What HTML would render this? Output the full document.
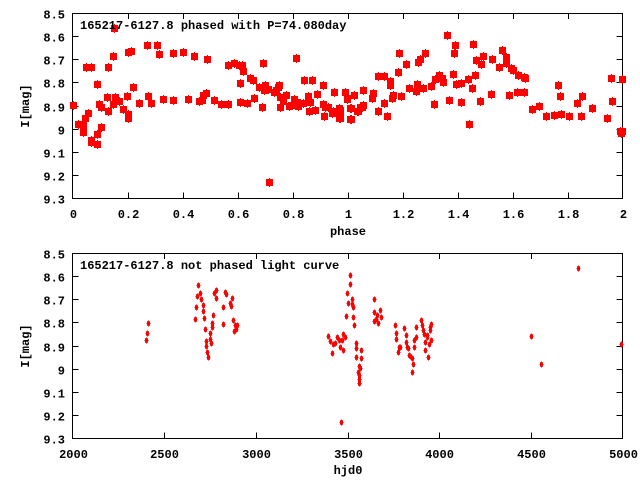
<!DOCTYPE html>
<html><head><meta charset="utf-8"><style>
html,body{margin:0;padding:0;background:#fff;}
svg{display:block;}
text{font-family:"Liberation Mono","DejaVu Sans Mono",monospace;font-weight:bold;font-size:12px;fill:#000;}
</style></head><body>
<svg id="s" width="640" height="480" xmlns="http://www.w3.org/2000/svg">
<rect width="640" height="480" fill="#fff"/>
<g id="ax" stroke="#000" stroke-width="1" fill="none" shape-rendering="crispEdges"></g>
<g id="tx"></g>
<g id="pts" fill="#f00" stroke="none" shape-rendering="crispEdges"></g>
<text x="80" y="29">165217-6127.8 phased with P=74.080day</text>
<text x="80" y="269">165217-6127.8 not phased light curve</text>
<text x="348" y="235" text-anchor="middle">phase</text>
<text x="348" y="474" text-anchor="middle">hjd0</text>
<text transform="translate(29,106) rotate(-90)" text-anchor="middle">I[mag]</text>
<text transform="translate(29,346) rotate(-90)" text-anchor="middle">I[mag]</text>
</svg>
<script>
var NS="http://www.w3.org/2000/svg";
var ax=document.getElementById('ax'),tx=document.getElementById('tx'),pts=document.getElementById('pts');
function el(p,tag,a,t){var e=document.createElementNS(NS,tag);for(var k in a)e.setAttribute(k,a[k]);if(t!==undefined)e.textContent=t;p.appendChild(e);return e;}
var L=72.5,R=622.5;
function panel(top,bot,xl){
  el(ax,'rect',{x:L,y:top+0.5,width:R-L,height:bot-top});
  var yl=['8.5','8.6','8.7','8.8','8.9','9','9.1','9.2','9.3'];
  for(var i=0;i<9;i++){var y=Math.round(top+i*(bot-top)/8)+0.5;
    if(i>0&&i<8){el(ax,'line',{x1:L,y1:y,x2:L+6,y2:y});el(ax,'line',{x1:R,y1:y,x2:R-6,y2:y});}
    el(tx,'text',{x:65,y:y+5,'text-anchor':'end'},yl[i]);}
  var n=xl.length;
  for(var j=0;j<n;j++){var x=Math.round(L+j*(R-L)/(n-1))+0.5;
    if(j>0&&j<n-1){el(ax,'line',{x1:x,y1:top,x2:x,y2:top+6});el(ax,'line',{x1:x,y1:bot+0.5,x2:x,y2:bot-5.5});}
    el(tx,'text',{x:x,y:bot+20,'text-anchor':'middle'},xl[j]);}
}
panel(13,198,['0','0.2','0.4','0.6','0.8','1','1.2','1.4','1.6','1.8','2']);
panel(253,438,['2000','2500','3000','3500','4000','4500','5000']);
var A=[73,105,78,124,83,125,83,132,85,118,88,113,91,140,91,142,97,144,97,134,101,127,99,104,101,107,86,67,91,67,97,84,108,67,107,97,108,111,113,56,114,28,113,104,115,97,119,101,123,109,127,96,128,114,128,118,128,52,131,51,133,87,139,103,147,45,148,96,151,103,157,45,159,54,163,99,173,53,173,100,183,52,188,99,194,56,199,101,202,100,203,95,206,93,207,59,214,100,221,104,228,104,228,65,234,63,239,65,242,65,243,71,240,83,240,102,247,103,250,78,253,80,254,98,259,87,262,107,263,63,265,85,264,90,268,89,269,182,274,92,276,90,278,87,279,85,280,97,280,107,283,101,286,95,289,106,291,105,294,99,296,58,297,102,298,106,303,103,304,80,308,96,309,111,310,102,312,80,315,110,317,94,323,85,323,104,324,116,325,107,328,107,332,113,333,111,334,92,339,108,339,118,340,113,345,92,347,98,350,119,350,108,354,95,358,111,360,107,
340,110,340,118,345,92,347,99,351,108,354,95,357,111,351,119,362,107,363,105,363,90,372,98,373,93,378,76,378,111,384,76,384,103,387,116,390,81,390,85,392,98,393,95,398,72,399,53,401,96,406,64,409,88,416,91,417,84,418,62,420,59,423,88,425,53,431,86,434,104,435,79,439,75,442,78,443,82,447,35,449,100,453,74,454,53,455,45,456,84,461,83,461,102,468,79,469,124,472,88,473,44,475,75,476,60,480,101,481,64,483,56,491,94,492,59,499,67,502,50,506,57,506,63,509,95,511,68,513,70,517,92,518,75,524,92,524,77,525,78,532,109,539,106,546,116,554,115,558,85,560,96,561,114,569,116,577,103,581,116,582,96,592,108,607,118,611,78,612,101,620,131,621,133,622,79,622,131];
for(var i=0;i<A.length;i+=2){
  el(pts,'rect',{x:A[i]-3,y:A[i+1]-3,width:7,height:7});
  el(pts,'rect',{x:A[i],y:A[i+1]-4,width:1,height:9});
}
var B=[146,340,147,333,148,323,195,319,196,307,197,296,198,285,200,293,201,299,203,305,203,311,204,318,205,329,206,341,206,346,207,352,208,357,210,333,210,339,211,343,212,327,212,323,213,315,214,293,216,298,216,290,223,307,223,324,225,292,226,294,230,303,231,306,232,298,233,320,234,331,235,325,237,325,236,329,
328,336,330,341,332,353,333,344,335,343,337,337,339,340,340,347,341,422,342,340,343,334,343,350,345,337,346,316,347,293,348,303,350,275,350,284,352,299,352,304,353,307,353,317,354,325,356,343,356,348,356,357,358,372,359,375,359,383,359,366,360,368,361,350,361,358,359,379,
374,299,374,312,374,321,376,319,377,315,378,323,380,310,381,317,
395,325,396,333,396,339,398,352,399,347,400,347,404,328,406,342,406,335,407,347,408,348,409,355,410,356,412,358,413,364,412,372,414,347,414,340,416,337,416,327,421,320,422,325,423,330,424,334,425,342,425,350,427,335,427,337,429,344,428,357,430,330,430,327,431,324,431,340,
531,336,541,364,578,268,621,344];
for(var i=0;i<B.length;i+=2){
  el(pts,'ellipse',{cx:B[i]+0.5,cy:B[i+1]+0.5,rx:1.8,ry:3});
}
</script>
</body></html>
